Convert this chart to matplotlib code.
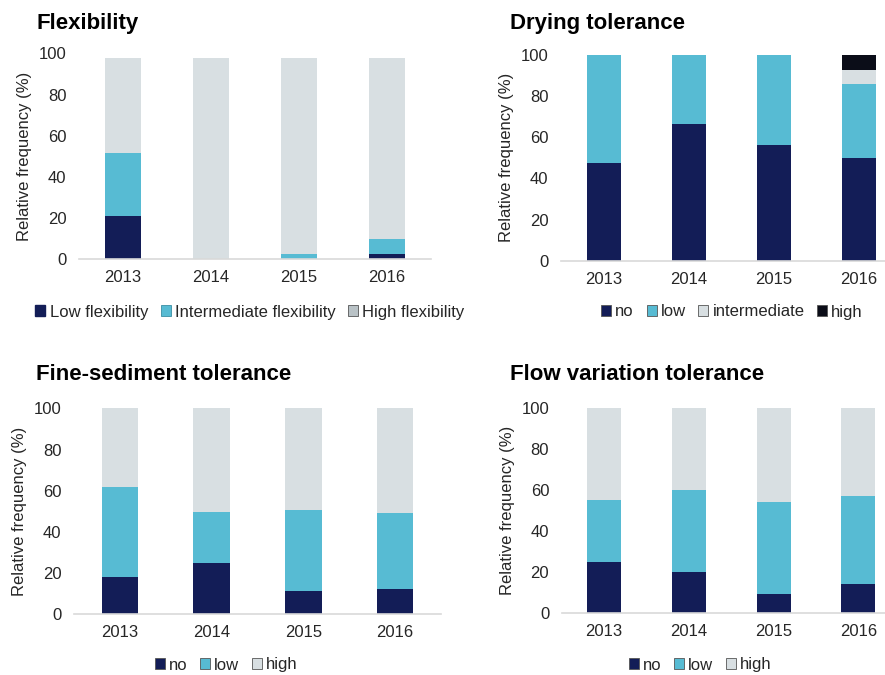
import numpy as np
import matplotlib.pyplot as plt
from matplotlib.patches import Patch

plt.rcParams['font.family'] = ['Liberation Sans', 'DejaVu Sans']

years = ['2013', '2014', '2015', '2016']

# Flexibility (%)
flex_low = [21.0, 0.0, 0.0, 2.3]
flex_inter = [30.6, 0.0, 2.4, 7.6]
flex_high = [46.1, 97.7, 95.3, 87.8]

# Drying tolerance (%)
dry_no = [47.4, 66.5, 56.2, 50.0]
dry_low = [52.6, 33.5, 43.8, 35.7]
dry_inter = [0.0, 0.0, 0.0, 6.8]
dry_high = [0.0, 0.0, 0.0, 7.5]

# Fine-sediment tolerance (%)
sed_no = [18.1, 25.0, 11.3, 12.1]
sed_low = [43.7, 24.8, 39.3, 37.2]
sed_high = [38.2, 50.2, 49.4, 50.7]

# Flow variation tolerance (%)
flow_no = [25.0, 20.3, 9.3, 14.3]
flow_low = [30.3, 39.7, 45.0, 42.8]
flow_high = [44.7, 40.0, 45.7, 42.9]

NAVY = '#131d57'
CYAN = '#57bbd3'
GREY = '#d8dfe2'
BLACK = '#0b0d18'
TXT = '#262626'
FS = 12

W, H = 885, 675
fig = plt.figure(figsize=(W / 100, H / 100), dpi=100)


def px_axes(left, top, right, bottom):
    return fig.add_axes([left / W, 1 - bottom / H, (right - left) / W, (bottom - top) / H])


def draw_panel(ax, series, colors, title, title_xy, labels, leg_xy, leg_handles=None):
    x = np.arange(len(years))
    base = np.zeros(len(years))
    for vals, c in zip(series, colors):
        ax.bar(x, vals, width=0.4, bottom=base, color=c, linewidth=0)
        base = base + np.array(vals)
    ax.set_xlim(-0.5, 3.5)
    ax.set_ylim(0, 100)
    ax.set_yticks([0, 20, 40, 60, 80, 100])
    ax.set_xticks(x)
    ax.set_xticklabels(years)
    ax.tick_params(length=0, labelsize=FS, colors=TXT)
    ax.tick_params(axis='y', pad=9)
    ax.tick_params(axis='x', pad=8)
    for s in ['top', 'right', 'left']:
        ax.spines[s].set_visible(False)
    ax.spines['bottom'].set_color('#d9d9d9')
    ax.spines['bottom'].set_linewidth(1.2)
    ax.set_ylabel('Relative frequency (%)', fontsize=FS, color=TXT, labelpad=5)
    fig.text(title_xy[0] / W, 1 - title_xy[1] / H, title, fontsize=16,
             fontweight='bold', ha='left', va='center', color='black')
    if leg_handles is None:
        leg_handles = [Patch(facecolor=c, edgecolor='#555555', linewidth=0.6) for c in colors]
    ax.legend(leg_handles, labels, loc='center',
              bbox_to_anchor=(leg_xy[0] / W, 1 - leg_xy[1] / H),
              bbox_transform=fig.transFigure, ncol=len(labels), frameon=False,
              fontsize=FS, handlelength=0.6, handleheight=0.6,
              handletextpad=0.25, columnspacing=0.75, labelcolor=TXT)


ax1 = px_axes(79, 53.5, 431, 259)
flex_handles = [Patch(facecolor=NAVY, edgecolor=NAVY),
                Patch(facecolor=CYAN, edgecolor='#3a8ea3', linewidth=0.6),
                Patch(facecolor='#b9c2c6', edgecolor='#555555', linewidth=0.6)]
draw_panel(ax1, [flex_low, flex_inter, flex_high], [NAVY, CYAN, GREY], 'Flexibility',
           (36, 24), ['Low flexibility', 'Intermediate flexibility', 'High flexibility'],
           (250, 312), flex_handles)

ax2 = px_axes(561, 55, 901, 260.7)
draw_panel(ax2, [dry_no, dry_low, dry_inter, dry_high], [NAVY, CYAN, GREY, BLACK],
           'Drying tolerance', (510, 24), ['no', 'low', 'intermediate', 'high'], (732, 312))

ax3 = px_axes(74, 408.3, 440.7, 614.3)
draw_panel(ax3, [sed_no, sed_low, sed_high], [NAVY, CYAN, GREY],
           'Fine-sediment tolerance', (36, 375), ['no', 'low', 'high'], (226, 665))

ax4 = px_axes(561.7, 408.3, 900.7, 613.3)
draw_panel(ax4, [flow_no, flow_low, flow_high], [NAVY, CYAN, GREY],
           'Flow variation tolerance', (510, 375), ['no', 'low', 'high'], (700, 665))

fig.savefig('out.png', dpi=100)
